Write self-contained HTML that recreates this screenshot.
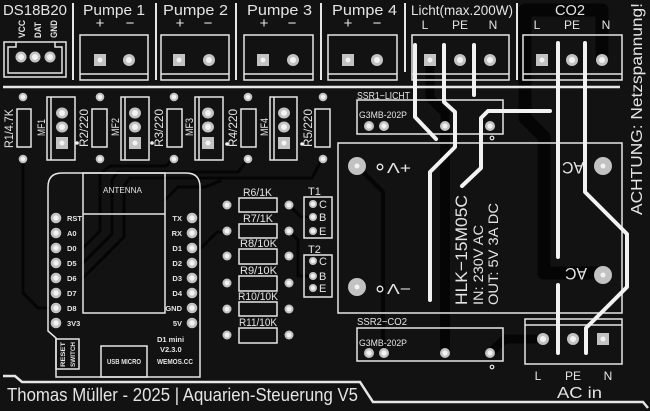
<!DOCTYPE html>
<html><head><meta charset="utf-8">
<style>
html,body{margin:0;padding:0;background:#121212;}
svg{display:block;}
text{font-family:"Liberation Sans",sans-serif;fill:#e4e4e4;}
.s{stroke:#e6e6e6;fill:none;}
.w{stroke:#f2f2f2;fill:none;stroke-width:4;stroke-linecap:round;stroke-linejoin:round;}
.rp{fill:#c2c2c2;}
.rc{fill:#f2f2f2;}
.t{stroke:#050505;fill:none;stroke-linecap:round;stroke-linejoin:round;}
.b{font-weight:bold;}
</style></head><body>
<svg width="650" height="411" viewBox="0 0 650 411" xmlns="http://www.w3.org/2000/svg">
<rect width="650" height="411" fill="#121212"/>

<!-- copper traces -->
<g class="t">
<path stroke-width="13" d="M602 60V10H525V118L544 137V273H603"/>
<path stroke-width="10" d="M445 126V353"/>
<path stroke-width="9" d="M490 353L505 339H543"/>
<path stroke-width="9" d="M430 60V98L445 113V126"/>
<path stroke-width="4" d="M357 166L383 192V353"/>
<path stroke-width="3" d="M23 158V293L38 308H56"/>
<path stroke-width="3" d="M83 248L100 231V174L110 166H166L174 158"/>
<path stroke-width="3" d="M83 263L112 234V180L118 172H238L248 159"/>
<path stroke-width="3" d="M83 278L124 237V186L130 178H312L322 159"/>
<path stroke-width="3" d="M165 200L178 187H205L220 181"/>
<path stroke-width="3" d="M192 248H201L217 232H227"/>
<path stroke-width="3" d="M289 205L301 217H313"/>
<path stroke-width="3" d="M289 231L298 240V276H313"/>
</g>

<!-- top separators -->
<path class="s" stroke-width="2" d="M73 3V80M156 3V80M236 3V80M321 3V80M405 3V72M517 3V80"/>
<path class="s" stroke-width="2.5" d="M3 87H620"/>

<!-- top labels -->
<text x="3" y="15" font-size="14.5" textLength="64" lengthAdjust="spacingAndGlyphs">DS18B20</text>
<text x="83" y="15" font-size="15" textLength="62" lengthAdjust="spacingAndGlyphs">Pumpe 1</text>
<text x="163" y="15" font-size="15" textLength="65" lengthAdjust="spacingAndGlyphs">Pumpe 2</text>
<text x="247" y="15" font-size="15" textLength="65" lengthAdjust="spacingAndGlyphs">Pumpe 3</text>
<text x="332" y="15" font-size="15" textLength="65" lengthAdjust="spacingAndGlyphs">Pumpe 4</text>
<text x="411" y="15" font-size="13.5" textLength="102" lengthAdjust="spacingAndGlyphs">Licht(max.200W)</text>
<text x="555" y="15" font-size="15" textLength="30" lengthAdjust="spacingAndGlyphs">CO2</text>
<g font-size="15" text-anchor="middle">
<text x="100" y="28">+</text><text x="130" y="28">−</text>
<text x="180" y="28">+</text><text x="208" y="28">−</text>
<text x="264" y="28">+</text><text x="292" y="28">−</text>
<text x="348" y="28">+</text><text x="377" y="28">−</text>
</g>
<g font-size="12" text-anchor="middle">
<text x="425" y="29">L</text><text x="460" y="29">PE</text><text x="493" y="29">N</text>
<text x="537" y="29">L</text><text x="572" y="29">PE</text><text x="606" y="29">N</text>
</g>
<g font-size="9.5" class="b">
<text transform="translate(25,38) rotate(-90)" textLength="18" lengthAdjust="spacingAndGlyphs">VCC</text>
<text transform="translate(41,38) rotate(-90)" textLength="16" lengthAdjust="spacingAndGlyphs">DAT</text>
<text transform="translate(57,38) rotate(-90)" textLength="18" lengthAdjust="spacingAndGlyphs">GND</text>
</g>

<!-- DS18B20 connector -->
<rect x="4" y="42" width="62" height="35" class="s" stroke-width="1.5"/>
<path class="s" stroke-width="1.5" d="M16 42V47H8V73H62V47H55V42"/>
<g><circle cx="21" cy="57" r="5.5" class="rp"/><circle cx="21" cy="57" r="3" class="rc"/>
<circle cx="35" cy="57" r="5.5" class="rp"/><circle cx="35" cy="57" r="3" class="rc"/>
<circle cx="50" cy="57" r="5.5" class="rp"/><circle cx="50" cy="57" r="3" class="rc"/></g>

<!-- terminal blocks -->
<g class="s" stroke-width="1.5">
<rect x="80" y="35" width="68" height="45"/><path d="M80 74H148"/>
<rect x="161" y="35" width="68" height="45"/><path d="M161 74H229"/>
<rect x="244" y="35" width="69" height="45"/><path d="M244 74H313"/>
<rect x="328" y="35" width="69" height="45"/><path d="M328 74H397"/>
<rect x="412" y="35" width="97" height="45"/><path d="M412 74H509"/>
<rect x="523" y="35" width="99" height="45"/><path d="M523 74H622"/>
<rect x="525" y="319" width="97" height="45"/><path d="M525 325H622"/>
</g>
<g>
<rect x="94" y="54" width="12" height="12" class="rp"/><circle cx="100" cy="60" r="2.5" class="rc"/>
<circle cx="129" cy="60" r="6" class="rp"/><circle cx="129" cy="60" r="3" class="rc"/>
<rect x="173" y="54" width="12" height="12" class="rp"/><circle cx="179" cy="60" r="2.5" class="rc"/>
<circle cx="209" cy="60" r="6" class="rp"/><circle cx="209" cy="60" r="3" class="rc"/>
<rect x="257" y="54" width="12" height="12" class="rp"/><circle cx="263" cy="60" r="2.5" class="rc"/>
<circle cx="293" cy="60" r="6" class="rp"/><circle cx="293" cy="60" r="3" class="rc"/>
<rect x="342" y="54" width="12" height="12" class="rp"/><circle cx="348" cy="60" r="2.5" class="rc"/>
<circle cx="377" cy="60" r="6" class="rp"/><circle cx="377" cy="60" r="3" class="rc"/>
<rect x="424" y="54" width="12" height="12" class="rp"/><circle cx="430" cy="60" r="2.5" class="rc"/>
<circle cx="460" cy="60" r="6" class="rp"/><circle cx="460" cy="60" r="3" class="rc"/>
<circle cx="490" cy="60" r="6" class="rp"/><circle cx="490" cy="60" r="3" class="rc"/>
<rect x="536" y="54" width="12" height="12" class="rp"/><circle cx="542" cy="60" r="2.5" class="rc"/>
<circle cx="572" cy="60" r="6" class="rp"/><circle cx="572" cy="60" r="3" class="rc"/>
<circle cx="602" cy="60" r="6" class="rp"/><circle cx="602" cy="60" r="3" class="rc"/>
<circle cx="543" cy="339" r="6" class="rp"/><circle cx="543" cy="339" r="3" class="rc"/>
<circle cx="573" cy="339" r="6" class="rp"/><circle cx="573" cy="339" r="3" class="rc"/>
<rect x="597" y="333" width="12" height="12" class="rp"/><circle cx="603" cy="339" r="2.5" class="rc"/>
</g>

<!-- MF / resistor row -->
<g>
<circle cx="23" cy="97" r="4.3" class="rp"/><circle cx="23" cy="97" r="2.3" class="rc"/>
<circle cx="100" cy="97" r="4.3" class="rp"/><circle cx="100" cy="97" r="2.3" class="rc"/>
<circle cx="174" cy="97" r="4.3" class="rp"/><circle cx="174" cy="97" r="2.3" class="rc"/>
<circle cx="248" cy="97" r="4.3" class="rp"/><circle cx="248" cy="97" r="2.3" class="rc"/>
<circle cx="323" cy="97" r="4.3" class="rp"/><circle cx="323" cy="97" r="2.3" class="rc"/>
<circle cx="23" cy="159" r="4.3" class="rp"/><circle cx="23" cy="159" r="2.3" class="rc"/>
<circle cx="100" cy="159" r="4.3" class="rp"/><circle cx="100" cy="159" r="2.3" class="rc"/>
<circle cx="174" cy="159" r="4.3" class="rp"/><circle cx="174" cy="159" r="2.3" class="rc"/>
<circle cx="248" cy="159" r="4.3" class="rp"/><circle cx="248" cy="159" r="2.3" class="rc"/>
<circle cx="323" cy="159" r="4.3" class="rp"/><circle cx="323" cy="159" r="2.3" class="rc"/>
</g>
<g class="s" stroke-width="1.5">
<rect x="17" y="109" width="14" height="38"/>
<rect x="92" y="109" width="15" height="38"/>
<rect x="167" y="109" width="15" height="38"/>
<rect x="241" y="109" width="15" height="38"/>
<rect x="315" y="109" width="15" height="38"/>
<rect x="47" y="97" width="28" height="63"/><path d="M51 97V160"/>
<rect x="121" y="97" width="28" height="63"/><path d="M125 97V160"/>
<rect x="195" y="97" width="28" height="63"/><path d="M199 97V160"/>
<rect x="270" y="97" width="27" height="63"/><path d="M274 97V160"/>
</g>
<g>
<ellipse cx="62" cy="113" rx="6" ry="5.5" class="rp"/><circle cx="62" cy="113" r="3" class="rc"/>
<ellipse cx="62" cy="127" rx="6" ry="5.5" class="rp"/><circle cx="62" cy="127" r="3" class="rc"/>
<rect x="56" y="137" width="12" height="12" class="rp"/><circle cx="62" cy="143" r="2.5" class="rc"/>
<ellipse cx="135" cy="113" rx="6" ry="5.5" class="rp"/><circle cx="135" cy="113" r="3" class="rc"/>
<ellipse cx="135" cy="127" rx="6" ry="5.5" class="rp"/><circle cx="135" cy="127" r="3" class="rc"/>
<rect x="129" y="137" width="12" height="12" class="rp"/><circle cx="135" cy="143" r="2.5" class="rc"/>
<ellipse cx="208" cy="113" rx="6" ry="5.5" class="rp"/><circle cx="208" cy="113" r="3" class="rc"/>
<ellipse cx="208" cy="127" rx="6" ry="5.5" class="rp"/><circle cx="208" cy="127" r="3" class="rc"/>
<rect x="202" y="137" width="12" height="12" class="rp"/><circle cx="208" cy="143" r="2.5" class="rc"/>
<ellipse cx="284" cy="113" rx="6" ry="5.5" class="rp"/><circle cx="284" cy="113" r="3" class="rc"/>
<ellipse cx="284" cy="127" rx="6" ry="5.5" class="rp"/><circle cx="284" cy="127" r="3" class="rc"/>
<rect x="278" y="137" width="12" height="12" class="rp"/><circle cx="284" cy="143" r="2.5" class="rc"/>
<circle cx="77" cy="143" r="1.8" fill="#f2f2f2"/><circle cx="152" cy="143" r="1.8" fill="#f2f2f2"/>
<circle cx="227" cy="144" r="1.8" fill="#f2f2f2"/><circle cx="302" cy="144" r="1.8" fill="#f2f2f2"/>
</g>
<g font-size="12">
<text transform="translate(13,148) rotate(-90)" textLength="39" lengthAdjust="spacingAndGlyphs">R1/4.7K</text>
<text transform="translate(88,147) rotate(-90)" textLength="38" lengthAdjust="spacingAndGlyphs">R2/220</text>
<text transform="translate(163,147) rotate(-90)" textLength="38" lengthAdjust="spacingAndGlyphs">R3/220</text>
<text transform="translate(237,147) rotate(-90)" textLength="38" lengthAdjust="spacingAndGlyphs">R4/220</text>
<text transform="translate(312,147) rotate(-90)" textLength="38" lengthAdjust="spacingAndGlyphs">R5/220</text>
</g>
<g font-size="11">
<text transform="translate(45,136) rotate(-90)" textLength="17" lengthAdjust="spacingAndGlyphs">MF1</text>
<text transform="translate(119,136) rotate(-90)" textLength="18" lengthAdjust="spacingAndGlyphs">MF2</text>
<text transform="translate(193,136) rotate(-90)" textLength="18" lengthAdjust="spacingAndGlyphs">MF3</text>
<text transform="translate(268,136) rotate(-90)" textLength="18" lengthAdjust="spacingAndGlyphs">MF4</text>
</g>

<!-- WeMos D1 mini -->
<g class="s" stroke-width="1.5">
<path d="M56 377V338L48 331V187Q48 173 62 173H186Q200 173 200 187V377Z"/>
<rect x="83" y="173" width="82" height="140"/>
<path d="M83 214H165"/>
<rect x="56" y="339" width="23" height="30"/>
<rect x="101" y="346" width="46" height="31"/>
</g>
<text x="103" y="193" font-size="8.5" textLength="39" lengthAdjust="spacingAndGlyphs">ANTENNA</text>
<g>
<circle cx="56" cy="218" r="5.3" class="rp"/><circle cx="56" cy="218" r="2.7" class="rc"/>
<circle cx="56" cy="233" r="5.3" class="rp"/><circle cx="56" cy="233" r="2.7" class="rc"/>
<circle cx="56" cy="248" r="5.3" class="rp"/><circle cx="56" cy="248" r="2.7" class="rc"/>
<circle cx="56" cy="263" r="5.3" class="rp"/><circle cx="56" cy="263" r="2.7" class="rc"/>
<circle cx="56" cy="278" r="5.3" class="rp"/><circle cx="56" cy="278" r="2.7" class="rc"/>
<circle cx="56" cy="293" r="5.3" class="rp"/><circle cx="56" cy="293" r="2.7" class="rc"/>
<circle cx="56" cy="308" r="5.3" class="rp"/><circle cx="56" cy="308" r="2.7" class="rc"/>
<circle cx="56" cy="323" r="5.3" class="rp"/><circle cx="56" cy="323" r="2.7" class="rc"/>
<circle cx="192" cy="218" r="5.3" class="rp"/><circle cx="192" cy="218" r="2.7" class="rc"/>
<circle cx="192" cy="233" r="5.3" class="rp"/><circle cx="192" cy="233" r="2.7" class="rc"/>
<circle cx="192" cy="248" r="5.3" class="rp"/><circle cx="192" cy="248" r="2.7" class="rc"/>
<circle cx="192" cy="263" r="5.3" class="rp"/><circle cx="192" cy="263" r="2.7" class="rc"/>
<circle cx="192" cy="278" r="5.3" class="rp"/><circle cx="192" cy="278" r="2.7" class="rc"/>
<circle cx="192" cy="293" r="5.3" class="rp"/><circle cx="192" cy="293" r="2.7" class="rc"/>
<circle cx="192" cy="308" r="5.3" class="rp"/><circle cx="192" cy="308" r="2.7" class="rc"/>
<circle cx="192" cy="323" r="5.3" class="rp"/><circle cx="192" cy="323" r="2.7" class="rc"/>
</g>
<g font-size="7.5" class="b">
<text x="67" y="221">RST</text><text x="67" y="236">A0</text><text x="67" y="251">D0</text><text x="67" y="266">D5</text>
<text x="67" y="281">D6</text><text x="67" y="296">D7</text><text x="67" y="311">D8</text><text x="67" y="326">3V3</text>
</g>
<g font-size="7.5" class="b" text-anchor="end">
<text x="182" y="221">TX</text><text x="182" y="236">RX</text><text x="182" y="251">D1</text><text x="182" y="266">D2</text>
<text x="182" y="281">D3</text><text x="182" y="296">D4</text><text x="182" y="311">GND</text><text x="182" y="326">5V</text>
</g>
<g font-size="7.5" class="b">
<text x="157" y="342">D1  mini</text>
<text x="160" y="352">V2.3.0</text>
<text x="157" y="364" textLength="36" lengthAdjust="spacingAndGlyphs">WEMOS.CC</text>
<text x="107" y="364" font-size="7" textLength="34" lengthAdjust="spacingAndGlyphs">USB MICRO</text>
<text transform="translate(65,367) rotate(-90)" font-size="6.5" textLength="25" lengthAdjust="spacingAndGlyphs">RESET</text>
<text transform="translate(75,367) rotate(-90)" font-size="6.5" textLength="25" lengthAdjust="spacingAndGlyphs">SWITCH</text>
</g>

<!-- R6..R11 -->
<g class="s" stroke-width="1.5">
<rect x="239" y="198" width="38" height="14"/>
<rect x="239" y="224" width="38" height="14"/>
<rect x="239" y="249" width="38" height="15"/>
<rect x="239" y="276" width="38" height="15"/>
<rect x="239" y="302" width="38" height="14"/>
<rect x="239" y="328" width="38" height="15"/>
<rect x="304" y="197" width="28" height="41"/>
<rect x="304" y="255" width="28" height="42"/>
</g>
<g>
<circle cx="227" cy="205" r="4.5" class="rp"/><circle cx="227" cy="205" r="2.4" class="rc"/>
<circle cx="289" cy="205" r="4.5" class="rp"/><circle cx="289" cy="205" r="2.4" class="rc"/>
<circle cx="227" cy="231" r="4.5" class="rp"/><circle cx="227" cy="231" r="2.4" class="rc"/>
<circle cx="289" cy="231" r="4.5" class="rp"/><circle cx="289" cy="231" r="2.4" class="rc"/>
<circle cx="227" cy="256" r="4.5" class="rp"/><circle cx="227" cy="256" r="2.4" class="rc"/>
<circle cx="289" cy="256" r="4.5" class="rp"/><circle cx="289" cy="256" r="2.4" class="rc"/>
<circle cx="227" cy="283" r="4.5" class="rp"/><circle cx="227" cy="283" r="2.4" class="rc"/>
<circle cx="289" cy="283" r="4.5" class="rp"/><circle cx="289" cy="283" r="2.4" class="rc"/>
<circle cx="227" cy="309" r="4.5" class="rp"/><circle cx="227" cy="309" r="2.4" class="rc"/>
<circle cx="289" cy="309" r="4.5" class="rp"/><circle cx="289" cy="309" r="2.4" class="rc"/>
<circle cx="227" cy="335" r="4.5" class="rp"/><circle cx="227" cy="335" r="2.4" class="rc"/>
<circle cx="289" cy="335" r="4.5" class="rp"/><circle cx="289" cy="335" r="2.4" class="rc"/>
<circle cx="313" cy="204" r="4" class="rp"/><circle cx="313" cy="204" r="2.2" class="rc"/>
<circle cx="313" cy="217" r="4" class="rp"/><circle cx="313" cy="217" r="2.2" class="rc"/>
<circle cx="313" cy="231" r="4" class="rp"/><circle cx="313" cy="231" r="2.2" class="rc"/>
<circle cx="313" cy="261" r="4" class="rp"/><circle cx="313" cy="261" r="2.2" class="rc"/>
<circle cx="313" cy="276" r="4" class="rp"/><circle cx="313" cy="276" r="2.2" class="rc"/>
<circle cx="313" cy="288" r="4" class="rp"/><circle cx="313" cy="288" r="2.2" class="rc"/>
</g>
<g font-size="11">
<text x="243" y="196" textLength="29" lengthAdjust="spacingAndGlyphs">R6/1K</text>
<text x="243" y="222" textLength="30" lengthAdjust="spacingAndGlyphs">R7/1K</text>
<text x="240" y="247" textLength="37" lengthAdjust="spacingAndGlyphs">R8/10K</text>
<text x="240" y="274" textLength="37" lengthAdjust="spacingAndGlyphs">R9/10K</text>
<text x="238" y="300" textLength="40" lengthAdjust="spacingAndGlyphs">R10/10K</text>
<text x="239" y="326" textLength="38" lengthAdjust="spacingAndGlyphs">R11/10K</text>
<text x="308" y="195">T1</text>
<text x="308" y="253">T2</text>
<text x="319" y="208">C</text><text x="319" y="221">B</text><text x="319" y="235">E</text>
<text x="319" y="265">C</text><text x="319" y="280">B</text><text x="319" y="292">E</text>
</g>

<!-- SSRs -->
<g class="s" stroke-width="1.5">
<rect x="357" y="100" width="146" height="34"/>
<rect x="357" y="328" width="146" height="33"/>
<circle cx="492" cy="138" r="1.8" stroke-width="1.2"/>
<circle cx="492" cy="367" r="1.8" stroke-width="1.2"/>
</g>
<g>
<circle cx="369" cy="126" r="5" class="rp"/><circle cx="369" cy="126" r="2.6" class="rc"/>
<circle cx="384" cy="126" r="5" class="rp"/><circle cx="384" cy="126" r="2.6" class="rc"/>
<circle cx="445" cy="126" r="5" class="rp"/><circle cx="445" cy="126" r="2.6" class="rc"/>
<circle cx="490" cy="126" r="5" class="rp"/><circle cx="490" cy="126" r="2.6" class="rc"/>
<circle cx="369" cy="353" r="5" class="rp"/><circle cx="369" cy="353" r="2.6" class="rc"/>
<circle cx="384" cy="353" r="5" class="rp"/><circle cx="384" cy="353" r="2.6" class="rc"/>
<circle cx="445" cy="353" r="5" class="rp"/><circle cx="445" cy="353" r="2.6" class="rc"/>
<circle cx="490" cy="353" r="5" class="rp"/><circle cx="490" cy="353" r="2.6" class="rc"/>
</g>
<text x="357" y="99" font-size="10" textLength="53" lengthAdjust="spacingAndGlyphs">SSR1−LICHT</text>
<text x="359" y="118" font-size="9" textLength="48" lengthAdjust="spacingAndGlyphs">G3MB-202P</text>
<text x="357" y="325" font-size="10" textLength="50" lengthAdjust="spacingAndGlyphs">SSR2−CO2</text>
<text x="359" y="346" font-size="9" textLength="48" lengthAdjust="spacingAndGlyphs">G3MB-202P</text>

<!-- HLK module -->
<rect x="338" y="143" width="284" height="170" class="s" stroke-width="1.5"/>
<g>
<circle cx="357" cy="166" r="9" class="rp"/><circle cx="357" cy="166" r="2.5" class="rc"/>
<circle cx="357" cy="287" r="9" class="rp"/><circle cx="357" cy="287" r="2.5" class="rc"/>
<circle cx="603" cy="166" r="9" class="rp"/><circle cx="603" cy="166" r="2.5" class="rc"/>
<circle cx="603" cy="275" r="9" class="rp"/><circle cx="603" cy="275" r="2.5" class="rc"/>
</g>
<text transform="translate(411,163) rotate(180)" font-size="15" textLength="24" lengthAdjust="spacingAndGlyphs">+V</text>
<text transform="translate(411,284) rotate(180)" font-size="15" textLength="24" lengthAdjust="spacingAndGlyphs">−V</text>
<circle cx="380" cy="167" r="2.8" class="s" stroke-width="1.3"/>
<circle cx="380" cy="289" r="2.8" class="s" stroke-width="1.3"/>
<text transform="translate(584,162) rotate(180)" font-size="17" textLength="22" lengthAdjust="spacingAndGlyphs">AC</text>
<text transform="translate(587,268) rotate(180)" font-size="17" textLength="22" lengthAdjust="spacingAndGlyphs">AC</text>
<text transform="translate(467,305) rotate(-90)" font-size="17" textLength="110" lengthAdjust="spacingAndGlyphs">HLK−15M05C</text>
<text transform="translate(483,305) rotate(-90)" font-size="14" textLength="80" lengthAdjust="spacingAndGlyphs">IN: 230V AC</text>
<text transform="translate(498,305) rotate(-90)" font-size="14" textLength="102" lengthAdjust="spacingAndGlyphs">OUT: 5V 3A DC</text>

<!-- high-voltage silkscreen lines -->
<path class="w" d="M415 45V117L436 139"/>
<path class="w" d="M444 45V102L455 112V147L430 172V300"/>
<path class="w" d="M474 45V95"/>
<path class="w" d="M550 111H488L481 118V168L462 186"/>
<path class="w" d="M558 43V257M558 285V353"/>
<path class="w" d="M585 43V192L627 234V287L586 328V353"/>

<!-- AC in labels -->
<g font-size="12" text-anchor="middle">
<text x="538" y="380">L</text><text x="573" y="380">PE</text><text x="608" y="380">N</text>
</g>
<text x="557" y="398" font-size="16" textLength="45" lengthAdjust="spacingAndGlyphs">AC  in</text>

<!-- warning -->
<text transform="translate(642,215) rotate(-90)" font-size="16" textLength="212" lengthAdjust="spacingAndGlyphs">ACHTUNG: Netzspannung!</text>

<!-- bottom -->
<path class="s" stroke-width="2.5" d="M3 376H15L22 382H360L373 402H643L648 408"/>
<text x="7" y="401" font-size="18.5" textLength="351" lengthAdjust="spacingAndGlyphs">Thomas Müller - 2025 | Aquarien-Steuerung V5</text>
</svg>
</body></html>
